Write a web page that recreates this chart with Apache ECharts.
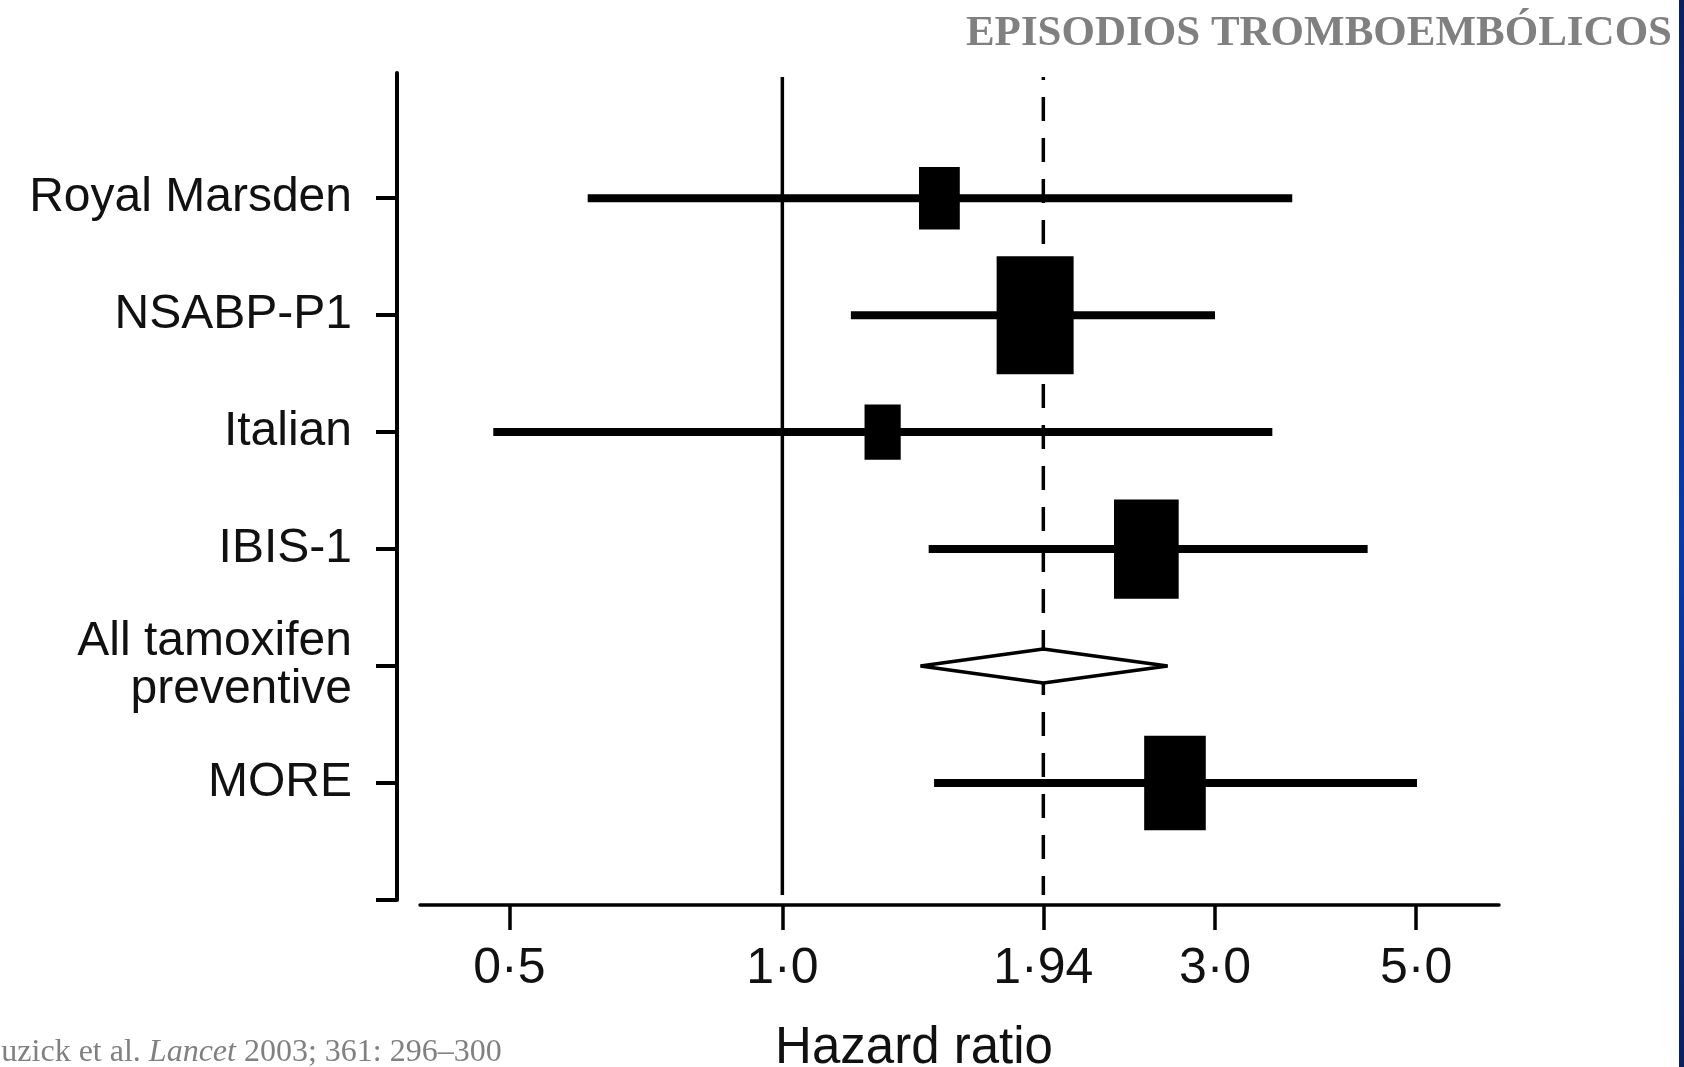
<!DOCTYPE html>
<html>
<head>
<meta charset="utf-8">
<title>Episodios tromboembólicos</title>
<script src="https://cdn.jsdelivr.net/npm/echarts@6/dist/echarts.min.js"></script>
<style>
  html, body { margin: 0; padding: 0; background: #fff; }
  #main { width: 1684px; height: 1067px; }
</style>
</head>
<body>
<div id="main"></div>
<script>
// estudios, de arriba abajo
var studies = ['Royal Marsden', 'NSABP-P1', 'Italian', 'IBIS-1', 'All tamoxifen\npreventive', 'MORE'];
var hrEst = [1.49, 1.90, 1.29, 2.52, 1.94, 2.71];
var ciLow = [0.61, 1.19, 0.48, 1.45, 1.42, 1.47];
var ciHigh = [3.65, 3.00, 3.47, 4.42, 2.66, 5.01];
var weights = [0.53, 1.0, 0.47, 0.84, 0, 0.80];
var pooled = [false, false, false, false, true, false];
var tickValues = [0.5, 1.0, 1.94, 3.0, 5.0];
var tickLabels = ['0·5', '1·0', '1·94', '3·0', '5·0'];
var refLines = [1.0, 1.94];

var n = studies.length;
var rows = studies.map(function (s, i) {
    return [ciLow[i], hrEst[i], ciHigh[i], n - i, weights[i], pooled[i] ? 1 : 0];
});

function xLabel(v) {
    for (var i = 0; i < tickValues.length; i++) {
        if (Math.abs(tickValues[i] - v) < 1e-6) return tickLabels[i];
    }
    return '';
}

function renderStudy(params, api) {
    var y = api.value(3);
    var pLo = api.coord([api.value(0), y]);
    var pEst = api.coord([api.value(1), y]);
    var pHi = api.coord([api.value(2), y]);
    if (api.value(5)) {
        // resultado combinado: rombo
        return {
            type: 'polygon',
            shape: { points: [pLo, [pEst[0], pEst[1] - 17], pHi, [pEst[0], pEst[1] + 17]] },
            style: { fill: '#fff', stroke: '#000', lineWidth: 3.5, lineJoin: 'bevel' }
        };
    }
    var w = 77 * api.value(4), h = 118 * api.value(4);
    return {
        type: 'group',
        children: [
            { type: 'line', shape: { x1: pLo[0], y1: pLo[1], x2: pHi[0], y2: pHi[1] },
              style: { stroke: '#000', lineWidth: 8 } },
            { type: 'rect', shape: { x: pEst[0] - w / 2, y: pEst[1] - h / 2, width: w, height: h },
              style: { fill: '#000' } }
        ]
    };
}

function renderRef(params, api) {
    var cs = params.coordSys;
    var x = api.coord([api.value(0), 0])[0];
    var dashed = params.dataIndex == 1;
    return {
        type: 'line',
        shape: { x1: x, y1: cs.y + cs.height - 5, x2: x, y2: cs.y + 4 },
        style: { stroke: '#000', lineWidth: 3.5, lineDash: dashed ? [24, 17] : null, lineDashOffset: 5 }
    };
}

var myChart = echarts.init(document.getElementById('main'));
var option = {
    backgroundColor: '#fff',
    animation: false,
    grid: { left: 420, right: 185, top: 73, bottom: 167 },
    xAxis: {
        type: 'log',
        min: 0.3985,
        max: 6.17,
        offset: 5,
        axisLine: { show: true, onZero: false, lineStyle: { color: '#000', width: 3.5 } },
        axisTick: { show: true, length: 25, customValues: tickValues, lineStyle: { color: '#000', width: 3.5 } },
        axisLabel: {
            customValues: tickValues,
            formatter: xLabel,
            margin: 39,
            color: '#111',
            fontFamily: 'Liberation Sans',
            fontSize: 50
        },
        splitLine: { show: false },
        minorTick: { show: false }
    },
    yAxis: {
        type: 'value',
        min: 0,
        max: 7.07,
        offset: 23,
        axisLine: { show: true, lineStyle: { color: '#000', width: 4 } },
        axisTick: { show: true, length: 21, customValues: [0, 1, 2, 3, 4, 5, 6], lineStyle: { color: '#000', width: 4 } },
        axisLabel: {
            customValues: [1, 2, 3, 4, 5, 6],
            formatter: function (v) { return studies[n - Math.round(v)]; },
            margin: 45,
            color: '#111',
            fontFamily: 'Liberation Sans',
            fontSize: 48,
            lineHeight: 48,
            padding: [0, 0, 12, 0],
            align: 'right'
        },
        splitLine: { show: false }
    },
    series: [{
        type: 'custom',
        z: 1,
        silent: true,
        renderItem: renderRef,
        encode: { x: 0, y: 1 },
        data: refLines.map(function (v) { return [v, 0]; })
    }, {
        type: 'custom',
        z: 3,
        silent: true,
        renderItem: renderStudy,
        encode: { x: [0, 1, 2], y: 3 },
        data: rows
    }],
    graphic: [{
        type: 'text',
        right: 12,
        top: 12,
        style: {
            text: 'EPISODIOS TROMBOEMBÓLICOS',
            fill: '#808080',
            font: 'bold 43px "Liberation Serif"'
        }
    }, {
        type: 'text',
        x: 914,
        y: 1049,
        style: {
            text: 'Hazard ratio',
            fill: '#111',
            font: '51px "Liberation Sans"',
            align: 'center',
            verticalAlign: 'middle'
        }
    }, {
        type: 'text',
        x: -20,
        y: 1053,
        style: {
            text: '{a|Cuzick et al. }{b|Lancet}{a| 2003; 361: 296–300}',
            verticalAlign: 'middle',
            rich: {
                a: { fontFamily: 'Liberation Serif', fontSize: 32, fill: '#808080', color: '#808080' },
                b: { fontFamily: 'Liberation Serif', fontSize: 32, fontStyle: 'italic', fill: '#808080', color: '#808080' }
            }
        }
    }, {
        type: 'rect',
        shape: { x: 1679, y: 0, width: 5, height: 1067 },
        style: {
            fill: new echarts.graphic.LinearGradient(0, 0, 0, 1, [
                { offset: 0, color: '#0b1f5e' },
                { offset: 0.5, color: '#0a3aa8' },
                { offset: 1, color: '#0b1f5e' }
            ])
        }
    }]
};
myChart.setOption(option);
</script>
</body>
</html>
